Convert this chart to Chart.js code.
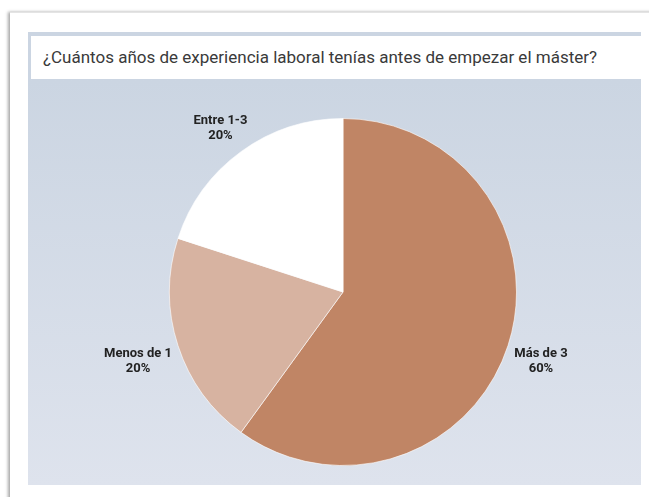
<html>
<head>
  <title>Experiencia laboral</title>
  <script src="https://cdn.jsdelivr.net/npm/chart.js@4.4.1/dist/chart.umd.min.js"></script>
  <style>
    body{
      margin: 0;
      background: #fff;
      width: 649px;
      height: 497px;
      overflow: hidden;
      position: relative;
      font-family: Roboto, "Liberation Sans", sans-serif;
    }
    .card{
      position: absolute;
      left: 10px;
      top: 12px;
      width: 660px;
      height: 500px;
      background: #fff;
      border-top: 1px solid #e4e4e4;
      box-shadow: -2px 0 3px rgba(0,0,0,0.35);
    }
    .panel{
      position: absolute;
      left: 28px;
      top: 32px;
      width: 613px;
      height: 453px;
      background: #cbd5e2;
    }
    .title{
      position: absolute;
      left: 31px;
      top: 36px;
      width: 618px;
      height: 43px;
      background: #fff;
      color: #3a3a3a;
      font-size: 17px;
      line-height: 43px;
      padding-left: 12px;
      box-sizing: border-box;
      white-space: nowrap;
    }
    .chart{
      position: absolute;
      left: 28px;
      top: 80px;
      width: 613px;
      height: 405px;
      background: linear-gradient(to bottom, #cbd5e2, #dee3ed);
    }
  </style>
</head>
<body>
  <div class="card"></div>
  <div class="panel"></div>
  <div class="title">¿Cuántos años de experiencia laboral tenías antes de empezar el máster?</div>
  <div class="chart"><canvas id="myChart" width="613" height="405"></canvas></div>

  <script type="text/javascript">
    var labels = ['Más de 3', 'Menos de 1', 'Entre 1-3'];
    var values = [60, 20, 20];
    var colors = ['#c08565', '#d7b3a1', '#ffffff'];

    // outside labels: name on first line, percentage below
    var outsideLabels = {
      id: 'outsideLabels',
      afterDatasetsDraw: function(chart){
        var ctx = chart.ctx;
        var meta = chart.getDatasetMeta(0);
        var total = values.reduce(function(a, b){ return a + b; }, 0);
        ctx.save();
        ctx.font = 'bold 13px Roboto, "Liberation Sans", sans-serif';
        ctx.fillStyle = '#222';
        ctx.textAlign = 'center';
        ctx.textBaseline = 'middle';
        meta.data.forEach(function(arc, i){
          var p = arc.getProps(['x', 'y', 'startAngle', 'endAngle', 'outerRadius'], true);
          var mid = (p.startAngle + p.endAngle) / 2;
          var dx = Math.cos(mid), dy = Math.sin(mid);
          var line1 = labels[i];
          var line2 = Math.round(values[i] / total * 100) + '%';
          var w = Math.max(ctx.measureText(line1).width, ctx.measureText(line2).width);
          var h = 28;
          var ax = p.x + dx * (p.outerRadius + 8);
          var ay = p.y + dy * (p.outerRadius + 8);
          var cx = ax + dx * w / 2;
          var cy = ay + dy * (h / 2 + 13) + 4;
          ctx.fillText(line1, cx, cy - 7);
          ctx.fillText(line2, cx, cy + 8);
        });
        ctx.restore();
      }
    };

    var ctx = document.getElementById('myChart').getContext('2d');
    var myChart = new Chart(ctx, {
      type: 'pie',
      data: {
        labels: labels,
        datasets: [{
          data: values,
          backgroundColor: colors,
          borderColor: 'rgba(255,255,255,0.6)',
          borderWidth: 1
        }]
      },
      options: {
        responsive: false,
        animation: false,
        layout: {
          padding: {left: 17, right: 0, top: 38, bottom: 19}
        },
        plugins: {
          legend: {display: false},
          tooltip: {enabled: false}
        }
      },
      plugins: [outsideLabels]
    });
  </script>
</body>
</html>
